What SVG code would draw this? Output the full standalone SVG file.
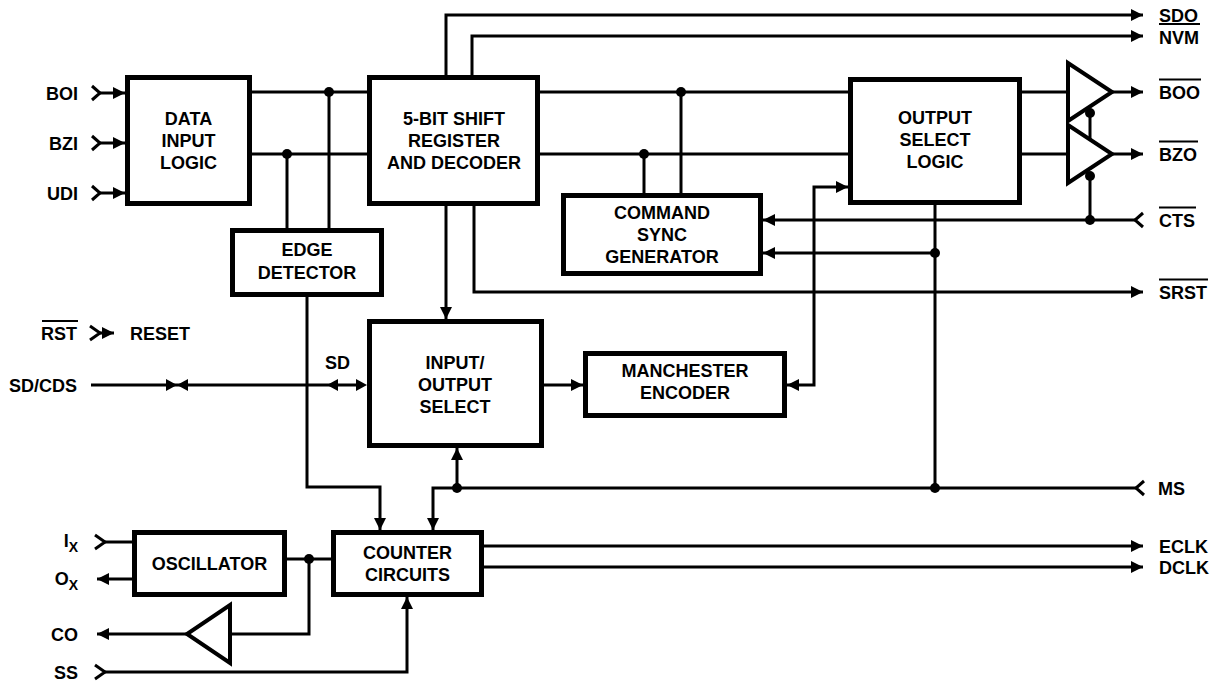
<svg xmlns="http://www.w3.org/2000/svg" width="1222" height="686" viewBox="0 0 1222 686">
<style>
text{font-family:"Liberation Sans",Arial,sans-serif;font-weight:bold;font-size:18px;fill:#000}
.c{text-anchor:middle}
.e{text-anchor:end}
.box{fill:#fff;stroke:#000;stroke-width:5}
.w{fill:none;stroke:#000;stroke-width:3}
.a{marker-end:url(#ah)}
.ab{marker-start:url(#ah);marker-end:url(#ah)}
.dot{fill:#000}
.buf{fill:#fff;stroke:#000;stroke-width:4;stroke-linejoin:miter}
.ch{fill:none;stroke:#000;stroke-width:3}
.bar{stroke:#000;stroke-width:2}
.hd{fill:#000}
</style>
<defs>
<marker id="ah" viewBox="0 0 12 12" refX="12" refY="6" markerWidth="12" markerHeight="12" markerUnits="userSpaceOnUse" orient="auto-start-reverse">
<path d="M0,0 L12,6 L0,12 z" fill="#000"/>
</marker>
</defs>

<g id="connectors">
<!-- inputs to data input logic -->
<polyline class="ch" points="92,86 100,93 92,100"/><line class="w a" x1="100" y1="93" x2="125" y2="93"/>
<polyline class="ch" points="92,136 100,143 92,150"/><line class="w a" x1="100" y1="143" x2="125" y2="143"/>
<polyline class="ch" points="92,186 100,193 92,200"/><line class="w a" x1="100" y1="193" x2="125" y2="193"/>
<!-- data -> shift register -->
<line class="w" x1="252" y1="92" x2="367" y2="92"/>
<line class="w" x1="252" y1="154" x2="367" y2="154"/>
<circle class="dot" cx="329" cy="92" r="5"/>
<circle class="dot" cx="287" cy="154" r="5"/>
<line class="w" x1="329" y1="92" x2="329" y2="228"/>
<line class="w" x1="287" y1="154" x2="287" y2="228"/>
<!-- edge detector to counter -->
<path class="w a" d="M307,297 V487 H380 V530"/>
<!-- shift -> output select -->
<line class="w" x1="540" y1="92" x2="848" y2="92"/>
<line class="w" x1="540" y1="154" x2="848" y2="154"/>
<circle class="dot" cx="681" cy="92" r="5"/>
<circle class="dot" cx="644" cy="154" r="5"/>
<line class="w" x1="681" y1="92" x2="681" y2="193"/>
<line class="w" x1="644" y1="154" x2="644" y2="193"/>
<!-- SDO / NVM / SRST -->
<path class="w a" d="M446,75 V15 H1143"/>
<path class="w a" d="M472,75 V36 H1143"/>
<path class="w a" d="M446,205 V319"/>
<path class="w a" d="M474,205 V292 H1143"/>
<!-- output select -> buffers -->
<line class="w" x1="1022" y1="92" x2="1068" y2="92"/>
<line class="w" x1="1022" y1="154" x2="1068" y2="154"/>
<line class="w a" x1="1112" y1="92" x2="1143" y2="92"/>
<line class="w a" x1="1112" y1="154" x2="1143" y2="154"/>
<line class="w" x1="1090" y1="113" x2="1090" y2="140"/>
<line class="w" x1="1090" y1="176" x2="1090" y2="220"/>
<circle class="dot" cx="1090" cy="220" r="5"/>
<!-- CTS -->
<polyline class="ch" points="1143,213 1135,220 1143,227"/>
<line class="w a" x1="1135" y1="220" x2="763" y2="220"/>
<line class="w" x1="935" y1="205" x2="935" y2="487"/>
<circle class="dot" cx="935" cy="253" r="5"/>
<line class="w a" x1="935" y1="253" x2="763" y2="253"/>
<!-- manchester link -->
<path class="w ab" d="M848,187 H814 V385 H787"/>
<line class="w a" x1="544" y1="385" x2="583" y2="385"/>
<!-- MS -->
<polyline class="ch" points="1144,481 1136,488 1144,495"/>
<path class="w a" d="M1136,488 H433 V530"/>
<circle class="dot" cx="935" cy="488" r="5"/>
<circle class="dot" cx="457" cy="488" r="5"/>
<line class="w a" x1="457" y1="488" x2="457" y2="448"/>
<!-- RST -->
<polyline class="ch" points="90,326 100,333 90,340"/><line class="w a" x1="100" y1="333" x2="114" y2="333"/>
<!-- SD/CDS -->
<line class="w" x1="91" y1="385" x2="360" y2="385"/>
<polygon class="hd" points="166,379 177,385 166,391"/>
<polygon class="hd" points="188,379 177,385 188,391"/>
<polygon class="hd" points="338,379 327,385 338,391"/>
<polygon class="hd" points="356,379 367,385 356,391"/>
<!-- oscillator -->
<polyline class="ch" points="95,535 105,542 95,549"/><line class="w" x1="105" y1="542" x2="132" y2="542"/>
<line class="w a" x1="132" y1="579" x2="97" y2="579"/>
<line class="w" x1="287" y1="559" x2="331" y2="559"/>
<circle class="dot" cx="309" cy="559" r="5"/>
<path class="w" d="M309,559 V634 H230"/>
<line class="w a" x1="187" y1="634" x2="97" y2="634"/>
<polyline class="ch" points="95,665 105,672 95,679"/>
<path class="w a" d="M105,672 H407 V597"/>
<!-- ECLK / DCLK -->
<line class="w a" x1="484" y1="546" x2="1143" y2="546"/>
<line class="w a" x1="484" y1="567" x2="1143" y2="567"/>
</g>

<g id="buffers">
<polygon class="buf" points="1068,63 1068,121 1112,92"/>
<polygon class="buf" points="1068,125 1068,183 1112,154"/>
<circle class="dot" cx="1090" cy="113" r="5"/>
<circle class="dot" cx="1090" cy="176" r="5"/>
<polygon class="buf" points="230,605 230,663 187,634"/>
</g>

<g id="data-input-logic">
<rect class="box" x="127.5" y="77.5" width="122" height="126"/>
<text class="c" x="188.5" y="124.5">DATA</text>
<text class="c" x="188.5" y="146.5">INPUT</text>
<text class="c" x="188.5" y="168.5">LOGIC</text>
</g>
<g id="shift-register">
<rect class="box" x="369.5" y="77.5" width="168" height="126"/>
<text class="c" x="454" y="124.5">5-BIT SHIFT</text>
<text class="c" x="454" y="146.5">REGISTER</text>
<text class="c" x="454" y="168.5">AND DECODER</text>
</g>
<g id="output-select-logic">
<rect class="box" x="850.5" y="79.5" width="169" height="123"/>
<text class="c" x="935" y="124">OUTPUT</text>
<text class="c" x="935" y="146">SELECT</text>
<text class="c" x="935" y="168">LOGIC</text>
</g>
<g id="edge-detector">
<rect class="box" x="232.5" y="230.5" width="149" height="64"/>
<text class="c" x="307" y="255.5">EDGE</text>
<text class="c" x="307" y="278.5">DETECTOR</text>
</g>
<g id="command-sync-generator">
<rect class="box" x="563.5" y="195.5" width="197" height="78"/>
<text class="c" x="662" y="218.5">COMMAND</text>
<text class="c" x="662" y="240.5">SYNC</text>
<text class="c" x="662" y="262.5">GENERATOR</text>
</g>
<g id="io-select">
<rect class="box" x="369.5" y="321.5" width="172" height="124"/>
<text class="c" x="455" y="368.5">INPUT/</text>
<text class="c" x="455" y="390.5">OUTPUT</text>
<text class="c" x="455" y="412.5">SELECT</text>
</g>
<g id="manchester-encoder">
<rect class="box" x="585.5" y="353.5" width="199" height="62"/>
<text class="c" x="685" y="376.5">MANCHESTER</text>
<text class="c" x="685" y="398.5">ENCODER</text>
</g>
<g id="oscillator">
<rect class="box" x="134.5" y="532.5" width="150" height="62"/>
<text class="c" x="209.5" y="570">OSCILLATOR</text>
</g>
<g id="counter-circuits">
<rect class="box" x="333.5" y="532.5" width="148" height="62"/>
<text class="c" x="407.5" y="559">COUNTER</text>
<text class="c" x="407.5" y="581">CIRCUITS</text>
</g>

<g id="labels">
<text class="e" x="78" y="99.5">BOI</text>
<text class="e" x="78" y="149.5">BZI</text>
<text class="e" x="78" y="199.5">UDI</text>
<text class="e" x="77" y="339.5">RST</text>
<line class="bar" x1="42" y1="321" x2="78" y2="321"/>
<text x="130" y="339.5">RESET</text>
<text x="325" y="368.5">SD</text>
<text class="e" x="77" y="391.5">SD/CDS</text>
<text class="e" x="78" y="547">I<tspan font-size="14" dy="5">X</tspan></text>
<text class="e" x="78" y="585">O<tspan font-size="14" dy="5">X</tspan></text>
<text class="e" x="78" y="640.5">CO</text>
<text class="e" x="78" y="678.5">SS</text>
<text x="1159" y="21.5">SDO</text>
<text x="1159" y="43.5">NVM</text>
<line class="bar" x1="1159" y1="24" x2="1200" y2="24"/>
<text x="1159" y="98.5">BOO</text>
<line class="bar" x1="1159" y1="79.5" x2="1201" y2="79.5"/>
<text x="1159" y="160.5">BZO</text>
<line class="bar" x1="1159" y1="141.5" x2="1198" y2="141.5"/>
<text x="1159" y="226.5">CTS</text>
<line class="bar" x1="1159" y1="207.5" x2="1196" y2="207.5"/>
<text x="1159" y="298.5">SRST</text>
<line class="bar" x1="1159" y1="279.5" x2="1208" y2="279.5"/>
<text x="1158" y="494.5">MS</text>
<text x="1159" y="552.5">ECLK</text>
<text x="1159" y="573.5">DCLK</text>
</g>
</svg>
